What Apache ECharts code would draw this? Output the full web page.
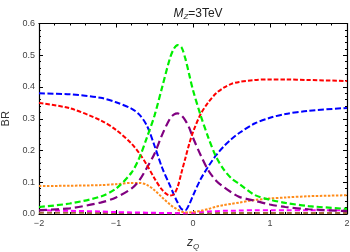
<!DOCTYPE html>
<html><head><meta charset="utf-8">
<script src="https://cdn.jsdelivr.net/npm/echarts@6/dist/echarts.min.js"></script>
<style>html,body{margin:0;padding:0;background:#fff}#c{width:350px;height:252px}</style>
</head><body><div id="c"></div>
<script>
const xs = [-2, -1.6, -1.2, -1.0, -0.8, -0.7, -0.6, -0.5, -0.4, -0.3, -0.25, -0.2, -0.15, -0.1, -0.05, 0, 0.1, 0.2, 0.3, 0.4, 0.5, 0.6, 0.8, 1.0, 1.2, 1.5, 2.0];
const red    = [0.350,0.333,0.295,0.265,0.222,0.192,0.155,0.112,0.076,0.058,0.062,0.085,0.130,0.175,0.220,0.258,0.315,0.352,0.380,0.398,0.410,0.416,0.422,0.424,0.424,0.422,0.419];
const blue   = [0.380,0.377,0.366,0.352,0.332,0.314,0.279,0.215,0.145,0.090,0.062,0.036,0.016,0.012,0.030,0.058,0.110,0.150,0.185,0.213,0.236,0.255,0.285,0.303,0.315,0.325,0.334];
const green  = [0.022,0.033,0.055,0.080,0.130,0.175,0.240,0.310,0.400,0.490,0.520,0.532,0.525,0.490,0.440,0.390,0.310,0.240,0.180,0.140,0.112,0.095,0.060,0.045,0.035,0.025,0.016];
const purple = [0.012,0.018,0.036,0.052,0.080,0.105,0.145,0.190,0.250,0.300,0.313,0.317,0.310,0.295,0.272,0.240,0.185,0.137,0.105,0.085,0.068,0.054,0.042,0.030,0.022,0.015,0.009];
const orange = [0.088,0.089,0.091,0.094,0.098,0.098,0.092,0.075,0.052,0.030,0.021,0.014,0.008,0.005,0.005,0.006,0.010,0.016,0.023,0.028,0.032,0.036,0.044,0.049,0.052,0.056,0.059];
const magenta= [0.012,0.010,0.008,0.006,0.005,0.005,0.004,0.004,0.003,0.003,0.002,0.002,0.002,0.002,0.003,0.004,0.006,0.008,0.009,0.010,0.010,0.011,0.012,0.012,0.012,0.012,0.012];
const brown  = [0.004,0.004,0.003,0.003,0.003,0.003,0.003,0.002,0.002,0.002,0.002,0.002,0.002,0.002,0.002,0.002,0.002,0.002,0.003,0.003,0.003,0.003,0.003,0.003,0.003,0.003,0.003];
const xTicks = ['\u22122','\u22121','0','1','2'];

function pairs(arr){ return xs.map((x,i)=>[x, arr[i]]); }
function ser(name, arr, color, dash, w){
  return {name, type:'line', data:pairs(arr), smooth:0.3, showSymbol:false, symbol:'none',
    lineStyle:{color, width:w||2, type:dash}, z: 3};
}
const chart = echarts.init(document.getElementById('c'), null, {renderer:'canvas'});
const FF = 'Liberation Sans, Arial, sans-serif';
const tickFont = {fontFamily:FF, fontSize:9, color:'#444'};
const axBase = {
  axisLine:{show:true, onZero:false, lineStyle:{color:'#000', width:1.2}},
  axisTick:{show:true, inside:true, length:4, lineStyle:{color:'#000', width:1}},
  minorTick:{show:true, splitNumber:5, length:2, lineStyle:{color:'#000', width:1}},
  splitLine:{show:false}
};
chart.setOption({
  animation:false,
  title:{
    text:'{m|M}{s|Z}{n|=3TeV}', left:193, textAlign:'center', top:2,
    textStyle:{fontWeight:'normal', rich:{
      m:{fontFamily:FF, fontStyle:'italic', fontWeight:'normal', fontSize:12, color:'#222'},
      s:{fontFamily:FF, fontStyle:'italic', fontWeight:'normal', fontSize:8, color:'#222', padding:[6,0,0,0]},
      n:{fontFamily:FF, fontWeight:'normal', fontSize:12, color:'#222'}
    }}
  },
  grid:{left:39, right:3, top:23.5, bottom:38, containLabel:false, outerBoundsMode:'none'},
  xAxis:[
    Object.assign({}, axBase, {type:'value', min:-2, max:2, interval:1, position:'bottom',
      axisLabel:Object.assign({}, tickFont, {margin:5, formatter:(v)=>xTicks[Math.round(v)+2]}),
      name:'{z|z}{q|Q}', nameLocation:'middle', nameGap:21,
      nameTextStyle:{rich:{
        z:{fontFamily:FF, fontStyle:'italic', fontSize:12, color:'#333'},
        q:{fontFamily:FF, fontStyle:'italic', fontSize:8, color:'#333', padding:[8,0,0,0]}
      }}
    }),
    Object.assign({}, axBase, {type:'value', min:-2, max:2, interval:1, position:'top', axisLabel:{show:false}})
  ],
  yAxis:[
    Object.assign({}, axBase, {type:'value', min:0, max:0.6, interval:0.1, position:'left',
      axisLabel:Object.assign({}, tickFont, {margin:4, formatter:(v)=>v.toFixed(1)}),
      name:'BR', nameLocation:'middle', nameGap:18,
      nameTextStyle:{fontFamily:FF, fontSize:11, color:'#333'}
    }),
    Object.assign({}, axBase, {type:'value', min:0, max:0.6, interval:0.1, position:'right', axisLabel:{show:false}})
  ],
  series:[
    ser('brown', brown, '#a0703a', [5,3], 2),
    ser('magenta', magenta, '#ff00ff', [5,3], 2),
    ser('orange', orange, '#ff8c1a', [2.5,1.5], 2),
    ser('purple', purple, '#800080', [8,4], 2.2),
    ser('blue', blue, '#0000ff', [6,2.5], 2),
    ser('red', red, '#ff0000', [4.5,2], 2),
    ser('green', green, '#00ee00', [6,3], 2.2)
  ]
});
</script></body></html>
